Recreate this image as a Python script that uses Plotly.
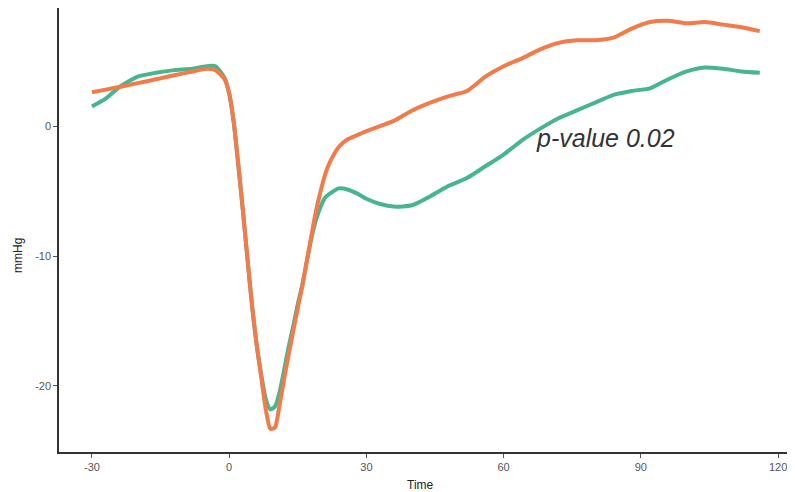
import plotly.graph_objects as go

time = [-30, -27, -24, -20, -16, -12, -8, -5, -3, -1, 0, 1, 2, 3, 4, 5, 6, 7, 8, 9, 10,
        11, 12, 13, 14, 15, 16, 17, 18, 19, 20, 21, 22, 24, 26, 28, 30, 33, 36, 40, 44,
        48, 52, 56, 60, 64, 68, 72, 76, 80, 84, 88, 92, 96, 100, 104, 108, 112, 116]

orange = [2.6, 2.8, 3.0, 3.3, 3.6, 3.9, 4.2, 4.4, 4.3, 3.6, 2.5, 0.3, -3.0, -6.5, -10.2,
          -13.8, -16.8, -19.3, -21.8, -23.3, -23.2, -21.5, -19.5, -17.6, -15.8, -14.0,
          -12.3, -10.3, -8.4, -6.5, -5.0, -3.7, -2.8, -1.6, -1.0, -0.7, -0.4, 0.0, 0.4,
          1.2, 1.8, 2.3, 2.7, 3.8, 4.6, 5.2, 5.9, 6.4, 6.6, 6.6, 6.8, 7.5, 8.0, 8.1, 7.9,
          8.0, 7.8, 7.6, 7.3]

green = [1.5, 2.1, 3.0, 3.8, 4.1, 4.3, 4.4, 4.6, 4.6, 3.7, 2.5, 0.3, -3.0, -6.5, -10.2,
         -13.8, -16.8, -19.1, -21.0, -21.8, -21.6, -20.5, -18.8, -17.0, -15.4, -13.7,
         -12.2, -10.4, -8.6, -7.2, -6.2, -5.5, -5.2, -4.8, -4.9, -5.2, -5.6, -6.0, -6.2,
         -6.1, -5.4, -4.6, -4.0, -3.1, -2.2, -1.1, -0.2, 0.6, 1.2, 1.8, 2.4, 2.7, 2.9,
         3.6, 4.2, 4.5, 4.4, 4.2, 4.1]

x_ticks = [-30, 0, 30, 60, 90, 120]
x_tick_labels = ["-30", "0", "30", "60", "90", "120"]
y_ticks = [-20, -10, 0]
y_tick_labels = ["-20", "-10", "0"]
annotation_text = "p-value 0.02"
x_title = "Time"
y_title = "mmHg"

FONT = "Liberation Sans, Arial"

# the page body has an 8px margin, so the figure is sized to the remaining area
W, H = 787, 484
L, R, T, B = 51, 0, 0, 40
PW, PH = W - L - R, H - T - B

fig = go.Figure()
fig.add_trace(go.Scatter(x=time, y=green, mode="lines",
                         line=dict(color="#47B58D", width=4, shape="spline", smoothing=0.6),
                         showlegend=False))
fig.add_trace(go.Scatter(x=time, y=orange, mode="lines",
                         line=dict(color="#F37A49", width=4, shape="spline", smoothing=0.6),
                         showlegend=False))

fig.add_annotation(x=82.2, y=-0.9, text="<i>" + annotation_text + "</i>", showarrow=False,
                   font=dict(family=FONT, size=25, color="#333333"))

fig.add_annotation(xref="paper", yref="paper", x=(412 - L) / PW,
                   y=-(477 - PH) / PH, text=x_title, showarrow=False,
                   xanchor="center", yanchor="middle",
                   font=dict(family=FONT, size=12, color="#222222"))
fig.add_annotation(xref="paper", yref="paper", x=-(L - 10) / PW,
                   y=(PH - 248) / PH, text=y_title, showarrow=False, textangle=-90,
                   xanchor="center", yanchor="middle",
                   font=dict(family=FONT, size=12, color="#222222"))

axis_common = dict(showgrid=False, zeroline=False, showline=True, linecolor="#333333",
                   linewidth=1.5, ticks="outside", ticklen=4, tickcolor="#555555",
                   automargin=False,
                   tickfont=dict(family=FONT, size=11, color="#555555"))

fig.update_layout(
    width=W, height=H,
    margin=dict(l=L, r=R, t=T, b=B),
    plot_bgcolor="white", paper_bgcolor="white",
    xaxis=dict(range=[-37.2, 123.7], tickvals=x_ticks, ticktext=x_tick_labels, **axis_common),
    yaxis=dict(range=[-25.08, 9.08], tickvals=y_ticks, ticktext=y_tick_labels, **axis_common),
)

fig.write_html("out.html")
